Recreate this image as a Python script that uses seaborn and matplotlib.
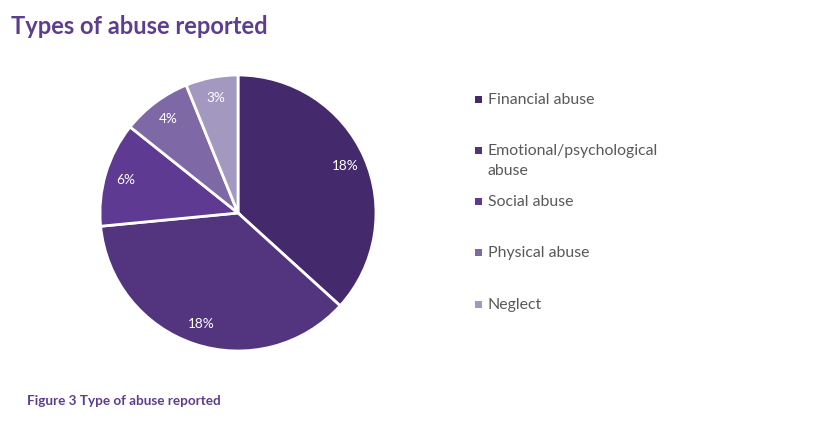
import matplotlib.pyplot as plt
import seaborn as sns
from matplotlib.patches import Rectangle

categories = ["Financial abuse", "Emotional/psychological\nabuse", "Social abuse", "Physical abuse", "Neglect"]
values = [18, 18, 6, 4, 3]
colors = ["#45296d", "#52347f", "#5e3a93", "#7e68a6", "#a298c0"]

TITLE_COLOR = "#5c3d91"
TEXT_COLOR = "#595959"


def main() -> None:
    sns.set_theme(style="white")
    plt.rcParams["font.family"] = ["Lato", "DejaVu Sans"]

    fig = plt.figure(figsize=(8.14, 4.25), dpi=100)
    W, H = 814, 425

    # pie area: centre (238, 213) px, radius ~138 px
    cx, cy, r = 238, 213, 138
    ax = fig.add_axes([(cx - r) / W, 1 - (cy + r) / H, 2 * r / W, 2 * r / H])
    total = sum(values)
    ax.pie(
        values,
        colors=colors,
        startangle=90,
        counterclock=False,
        radius=1.0,
        wedgeprops={"edgecolor": "white", "linewidth": 2},
        autopct=lambda p: f"{round(p * total / 100)}%",
        pctdistance=0.85,
        textprops={"color": "white", "fontsize": 9.8},
    )
    ax.set_xlim(-1.0, 1.0)
    ax.set_ylim(-1.0, 1.0)
    ax.set_aspect("equal")
    ax.axis("off")

    fig.text(11 / W, 1 - 27 / H, "Types of abuse reported", fontsize=17, fontweight="bold",
             color=TITLE_COLOR, va="center", ha="left")
    fig.text(27 / W, 1 - 401 / H, "Figure 3 Type of abuse reported", fontsize=9.7, fontweight="bold",
             color=TITLE_COLOR, va="center", ha="left")

    # legend drawn by hand so the wrapped label keeps the Excel spacing
    for i, (label, color) in enumerate(zip(categories, colors)):
        y_px = 99 + 51.3 * i
        fig.add_artist(Rectangle((475 / W, 1 - (y_px + 3.5) / H), 7 / W, 7 / H,
                                 transform=fig.transFigure, color=color, lw=0))
        fig.text(488 / W, 1 - (y_px - 6.5) / H, label, fontsize=11.4, color=TEXT_COLOR,
                 va="top", ha="left", linespacing=1.55)

    fig.savefig("out.png", dpi=100)
    plt.close(fig)


if __name__ == "__main__":
    main()
